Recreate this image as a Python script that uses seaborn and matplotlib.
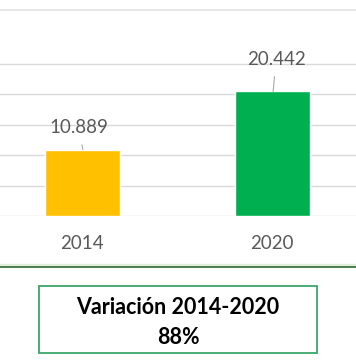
import matplotlib
matplotlib.use("Agg")
import matplotlib.pyplot as plt
import seaborn as sns
import pandas as pd
from matplotlib.lines import Line2D
from matplotlib.patches import Rectangle

years = ["2014", "2020"]
values = [10889, 20442]
value_labels = ["10.889", "20.442"]
bar_colors = ["#FFC000", "#00B050"]
box_line1 = "Variación 2014-2020"
box_line2 = "88%"

sns.set_theme(style="white")
plt.rcParams['font.family'] = ['Lato', 'DejaVu Sans']

df = pd.DataFrame({"year": years, "value": values})

fig = plt.figure(figsize=(3.56, 3.64), dpi=100)
W, H = 356, 364
PX = 72 / 100  # points per pixel
ax = fig.add_axes([0, 1 - 216 / H, 1, (216 - 10) / H])

sns.barplot(data=df, x="year", y="value", hue="year", palette=bar_colors,
            width=0.395, legend=False, ax=ax, saturation=1)

ax.set_xlim(-0.434, 1.442)
ax.set_ylim(0, 33800)
ax.set_yticks([0, 5000, 10000, 15000, 20000, 25000])
ax.yaxis.grid(True, color="#d9d9d9", linewidth=1)
ax.set_axisbelow(True)
for s in ["left", "right", "bottom"]:
    ax.spines[s].set_visible(False)
ax.spines["top"].set_color("#e3e3e3")
ax.set_yticklabels([])
ax.tick_params(axis="y", length=0)
ax.tick_params(axis="x", length=0, labelsize=13.5, colors="#595959", pad=14)
ax.set_xlabel("")
ax.set_ylabel("")

# label offsets in pixels (dx, dy) and leader anchor shift in pixels
label_offsets = [(-4, 22), (3, 32)]
anchor_shift = [0.5 / 190, 1 / 190]
for i, (v, lab) in enumerate(zip(values, value_labels)):
    dx, dy = label_offsets[i]
    ax.annotate(lab, xy=(i + anchor_shift[i], v), xytext=(dx * PX, dy * PX),
                textcoords="offset points", ha="center", va="center",
                fontsize=13.5, color="#595959",
                arrowprops=dict(arrowstyle="-", color="#a6a6a6", lw=0.8,
                                shrinkA=4, shrinkB=0))

# separator line
fig.add_artist(Line2D([0, 1], [1 - 264.5 / H, 1 - 264.5 / H], transform=fig.transFigure,
                      color="#e2efda", lw=2.5))
fig.add_artist(Line2D([0, 1], [1 - 266.8 / H, 1 - 266.8 / H], transform=fig.transFigure,
                      color="#2f6b34", lw=1.2))

# box
fig.add_artist(Rectangle((39 / W, 1 - 353 / H), (317 - 39) / W, (353 - 286) / H,
                         transform=fig.transFigure, fill=False, edgecolor="#3aa66a", lw=1.3))
fig.text(178 / W, 1 - 307.5 / H, box_line1, ha="center", va="center", fontsize=15.5,
         fontweight="bold", color="#000000")
fig.text(178 / W, 1 - 337.5 / H, box_line2, ha="center", va="center", fontsize=15.5,
         fontweight="bold", color="#000000")

fig.savefig("out.png", dpi=100)
